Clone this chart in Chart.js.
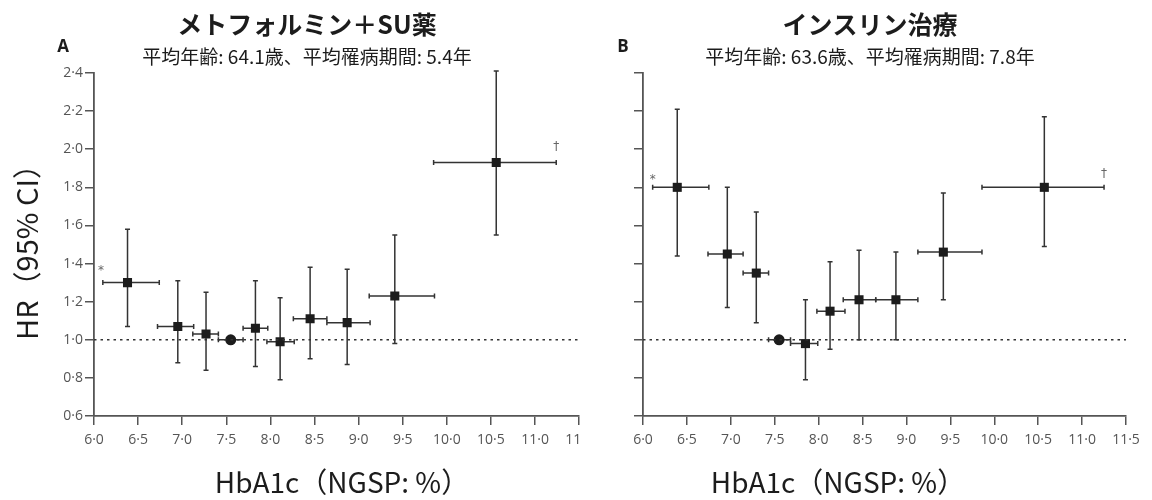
<!DOCTYPE html>
<html>
<head>
<meta charset="utf-8">
<script src="https://cdn.jsdelivr.net/npm/chart.js@4.4.0/dist/chart.umd.min.js"></script>
<style>
	body { margin: 0; background: #fff; }
	#wrap { position: relative; width: 1152px; height: 500px; overflow: hidden; background: #fff; }
	#panelA { position: absolute; left: 0; top: 0; width: 600px; height: 500px; }
	#panelB { position: absolute; left: 580px; top: 0; width: 572px; height: 500px; background: #fff; }
</style>
</head>
<body>
<div id="wrap">
	<div id="panelA"><canvas id="chartA" width="600" height="500"></canvas></div>
	<div id="panelB"><canvas id="chartB" width="572" height="500"></canvas></div>
</div>
<script>
// axis ticks
const xTicks = [6.0, 6.5, 7.0, 7.5, 8.0, 8.5, 9.0, 9.5, 10.0, 10.5, 11.0, 11.5];
const yTicks = [0.6, 0.8, 1.0, 1.2, 1.4, 1.6, 1.8, 2.0, 2.2, 2.4];
const refHR = 1.0;
const refIndex = 3; // reference category (drawn as circle)

// panel A : metformin + SU
const hba1cA = [6.38, 6.95, 7.27, 7.55, 7.83, 8.11, 8.45, 8.87, 9.41, 10.56];
const hba1cLowA = [6.10, 6.72, 7.12, 7.41, 7.69, 7.96, 8.26, 8.64, 9.12, 9.85];
const hba1cHighA = [6.74, 7.13, 7.41, 7.69, 7.97, 8.27, 8.64, 9.13, 9.86, 11.24];
const hrA = [1.30, 1.07, 1.03, 1.00, 1.06, 0.99, 1.11, 1.09, 1.23, 1.93];
const hrLowA = [1.07, 0.88, 0.84, null, 0.86, 0.79, 0.90, 0.87, 0.98, 1.55];
const hrHighA = [1.58, 1.31, 1.25, null, 1.31, 1.22, 1.38, 1.37, 1.55, 2.41];
const notesA = [{ x: 6.08, y: 1.36, text: "*" }, { x: 11.24, y: 2.01, text: "†" }];

// panel B : insulin
const hba1cB = [6.39, 6.96, 7.29, 7.55, 7.85, 8.13, 8.46, 8.88, 9.42, 10.57];
const hba1cLowB = [6.11, 6.74, 7.14, 7.43, 7.68, 7.98, 8.28, 8.65, 9.13, 9.86];
const hba1cHighB = [6.75, 7.14, 7.43, 7.68, 7.99, 8.30, 8.65, 9.13, 9.86, 11.25];
const hrB = [1.80, 1.45, 1.35, 1.00, 0.98, 1.15, 1.21, 1.21, 1.46, 1.80];
const hrLowB = [1.44, 1.17, 1.09, null, 0.79, 0.95, 1.00, 1.00, 1.21, 1.49];
const hrHighB = [2.21, 1.80, 1.67, null, 1.21, 1.41, 1.47, 1.46, 1.77, 2.17];
const notesB = [{ x: 6.11, y: 1.84, text: "*" }, { x: 11.25, y: 1.87, text: "†" }];

const inkColor = "#1c1c1c";
const axisColor = "#555";
const jpFont = "'Noto Sans CJK JP', 'Noto Sans', sans-serif";

function fmtTick(v) {
	return Number(v).toFixed(1).replace(".", "·");
}

// error bars + texts, drawn through the chart scales
function panelPlugin(p) {
	return {
		id: "panel" + p.letter,
		beforeDatasetsDraw(chart) {
			const xs = chart.scales.x;
			const ys = chart.scales.y;
			const ctx = chart.ctx;
			const cap = 2.5;
			ctx.save();
			ctx.strokeStyle = "#333";
			ctx.lineWidth = 1.5;
			for (let i = 0; i < p.x.length; i++) {
				const py = ys.getPixelForValue(p.y[i]);
				const px = xs.getPixelForValue(p.x[i]);
				const x1 = xs.getPixelForValue(p.xLow[i]);
				const x2 = xs.getPixelForValue(p.xHigh[i]);
				ctx.beginPath();
				ctx.moveTo(x1, py);
				ctx.lineTo(x2, py);
				ctx.moveTo(x1, py - cap);
				ctx.lineTo(x1, py + cap);
				ctx.moveTo(x2, py - cap);
				ctx.lineTo(x2, py + cap);
				ctx.stroke();
				if (p.yLow[i] != null) {
					const y1 = ys.getPixelForValue(p.yLow[i]);
					const y2 = ys.getPixelForValue(p.yHigh[i]);
					ctx.beginPath();
					ctx.moveTo(px, y1);
					ctx.lineTo(px, y2);
					ctx.moveTo(px - cap, y1);
					ctx.lineTo(px + cap, y1);
					ctx.moveTo(px - cap, y2);
					ctx.lineTo(px + cap, y2);
					ctx.stroke();
				}
			}
			ctx.restore();
		},
		afterDraw(chart) {
			const ctx = chart.ctx;
			const xs = chart.scales.x;
			const ys = chart.scales.y;
			ctx.save();
			ctx.fillStyle = inkColor;
			ctx.textAlign = "center";
			ctx.textBaseline = "middle";
			ctx.font = "bold 25px " + jpFont;
			ctx.fillText(p.title, p.titleX, 24);
			ctx.font = "19px " + jpFont;
			ctx.fillText(p.subtitle, p.titleX, 57);
			ctx.font = "bold 17px 'Open Sans', sans-serif";
			ctx.fillText(p.letter, p.letterX, 47);
			ctx.font = "28px " + jpFont;
			ctx.fillText("HbA1c（NGSP: %）", p.xTitleX, 482);
			if (p.yTitle) {
				ctx.save();
				ctx.translate(27, 245);
				ctx.rotate(-Math.PI / 2);
				ctx.font = "29px " + jpFont;
				ctx.fillText(p.yTitle, 0, 0);
				ctx.restore();
			}
			ctx.fillStyle = "#666";
			ctx.font = "12px 'DejaVu Sans', sans-serif";
			p.notes.forEach((n) => {
				ctx.fillText(n.text, xs.getPixelForValue(n.x), ys.getPixelForValue(n.y));
			});
			ctx.restore();
		},
	};
}

function makeChart(canvasId, p) {
	const points = p.x.map((v, i) => ({ x: v, y: p.y[i] }));
	return new Chart(document.getElementById(canvasId), {
		type: "scatter",
		data: {
			datasets: [
				{
					type: "line",
					data: [{ x: xTicks[0], y: refHR }, { x: xTicks[xTicks.length - 1], y: refHR }],
					borderColor: "#333",
					borderWidth: 1.5,
					borderDash: [2.5, 4],
					pointRadius: 0,
				},
				{
					data: points,
					backgroundColor: inkColor,
					borderColor: inkColor,
					pointStyle: p.x.map((v, i) => (i === refIndex ? "circle" : "rect")),
					pointRadius: p.x.map((v, i) => (i === refIndex ? 5.5 : 6.4)),
					borderWidth: 0,
				},
			],
		},
		options: {
			responsive: false,
			animation: false,
			layout: { padding: { left: 0, right: p.rightPad, top: 73, bottom: 0 } },
			plugins: { legend: { display: false }, tooltip: { enabled: false } },
			scales: {
				x: {
					type: "linear",
					min: xTicks[0],
					max: xTicks[xTicks.length - 1],
					afterBuildTicks: (s) => {
						s.ticks = xTicks.map((v) => ({ value: v }));
					},
					afterFit: (s) => {
						s.height = 84;
					},
					grid: { drawOnChartArea: false, drawTicks: true, tickLength: 9, color: axisColor, lineWidth: 1.5 },
					border: { color: axisColor, width: 1.8 },
					ticks: {
						color: "#555",
						font: { size: 14, family: "'Open Sans', sans-serif" },
						padding: 7,
						maxRotation: 0,
						autoSkip: false,
						callback: (v) => fmtTick(v),
					},
				},
				y: {
					type: "linear",
					min: yTicks[0],
					max: yTicks[yTicks.length - 1],
					afterBuildTicks: (s) => {
						s.ticks = yTicks.map((v) => ({ value: v }));
					},
					afterFit: (s) => {
						s.width = p.yWidth;
					},
					grid: { drawOnChartArea: false, drawTicks: true, tickLength: 9, color: axisColor, lineWidth: 1.5 },
					border: { color: axisColor, width: 1.8 },
					ticks: {
						display: p.yLabels,
						color: "#555",
						font: { size: 14, family: "'Open Sans', sans-serif" },
						padding: 2,
						autoSkip: false,
						callback: (v) => fmtTick(v),
					},
				},
			},
		},
		plugins: [panelPlugin(p)],
	});
}

var chartA = makeChart("chartA", {
	letter: "A",
	title: "メトフォルミン＋SU薬",
	subtitle: "平均年齢: 64.1歳、平均罹病期間: 5.4年",
	yTitle: "HR（95% CI）",
	titleX: 307,
	letterX: 63,
	xTitleX: 342,
	yWidth: 94,
	rightPad: 14,
	yLabels: true,
	x: hba1cA, xLow: hba1cLowA, xHigh: hba1cHighA,
	y: hrA, yLow: hrLowA, yHigh: hrHighA,
	notes: notesA,
});

var chartB = makeChart("chartB", {
	letter: "B",
	title: "インスリン治療",
	subtitle: "平均年齢: 63.6歳、平均罹病期間: 7.8年",
	yTitle: null,
	titleX: 290,
	letterX: 43,
	xTitleX: 258,
	yWidth: 63,
	rightPad: 26,
	yLabels: false,
	x: hba1cB, xLow: hba1cLowB, xHigh: hba1cHighB,
	y: hrB, yLow: hrLowB, yHigh: hrHighB,
	notes: notesB,
});
</script>
</body>
</html>
